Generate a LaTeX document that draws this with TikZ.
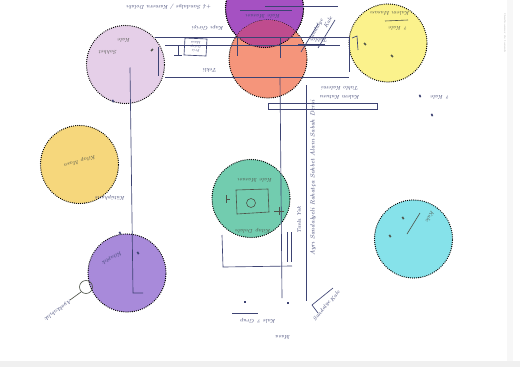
\documentclass[tikz,border=0pt]{standalone}
\usetikzlibrary{calc}
\definecolor{pen}{HTML}{3D4373}
\definecolor{pencil}{HTML}{4E5349}
\definecolor{clav}{HTML}{E5CFE8}
\definecolor{cplum}{HTML}{A551C2}
\definecolor{cmix}{HTML}{BF4C8E}
\definecolor{csalmon}{HTML}{F5957B}
\definecolor{cyel}{HTML}{FBF28C}
\definecolor{cgold}{HTML}{F6D77C}
\definecolor{cteal}{HTML}{72CCAF}
\definecolor{ccyan}{HTML}{86E2EA}
\definecolor{cviolet}{HTML}{A88ADA}
\tikzset{
  rim/.style={draw=black, line width=1.3pt, line cap=round, dash pattern=on 0pt off 2.1pt},
  spot/.style={circle, inner sep=0pt, minimum size=78pt, rim},
  ink/.style={draw=pen, line width=0.65pt},
  hand/.style={text=pen, font=\itshape\fontsize{5.4}{6}\selectfont, inner sep=0.3pt},
  lead/.style={text=pencil, font=\itshape\fontsize{5.4}{6}\selectfont, inner sep=0.3pt},
  dotmark/.style={fill=pen, inner sep=0pt, minimum width=1.6pt, minimum height=2.6pt}
}
\begin{document}
\begin{tikzpicture}[x=1pt,y=-1pt]
\useasboundingbox (0,0) rectangle (520,367);
\fill[white] (0,0) rectangle (520,367);
% scanner edge shading
\fill[black!6] (0,361) rectangle (520,367);
\fill[black!3] (507,0) rectangle (513,361);

% coloured zones
\node[spot, fill=clav] (study) at (125.5,64.5) {};
\node[spot, fill=cplum] (desk) at (264.5,8.5) {};
\node[spot, fill=csalmon] (board) at (268,59) {};
\begin{scope}
  \clip (268,59) circle (39pt);
  \fill[cmix] (264.5,8.5) circle (39pt);
\end{scope}
\draw[rim] (264.5,8.5) circle (39pt);
\node[spot, fill=cyel] (corner) at (388,43) {};
\node[spot, fill=cgold] (library) at (79.5,164.5) {};
\node[spot, fill=cteal] (table) at (251,198.5) {};
\node[spot, fill=ccyan] (window) at (413.5,239) {};
\node[spot, fill=cviolet] (shelf) at (127,273) {};

% wall lines across the top
\draw[ink] (155,37) -- (349,37);
\draw[ink] (165,45) -- (340,45);
\draw[ink] (165,77) -- (349,77);
\draw[ink] (158,47) -- (158,76);
\draw[ink] (349,37) -- (349,72);
\draw[ink] (237,38) -- (237,56);
\draw[ink] (280,38) -- (280,58);
\draw[ink] (265,6) -- (338,6);
\draw[ink] (240,10) -- (292,10);
\draw[ink] (178,45) -- (178,55) (174,55) -- (182,55);
\draw[ink] (185,38) -- (207,39) -- (206,56) -- (184,55) -- cycle;
\draw[ink] (301,52) -- (318,24) (318,48) -- (335,20);
\draw[ink] (298,44) -- (325,44);
\draw[ink] (352,38) -- (357,36) -- (358,50);
\draw[draw=pencil, line width=0.6pt] (385,21) -- (408,20);

% main corridor
\draw[ink] (study.center) ++(4.5,3) -- (133,293) -- (143,293);
\draw[ink] (280,77) -- (282,298);
\draw[ink] (306,85) -- (306,301);
\draw[ink] (268,103) -- (377,103) -- (377,109) -- (268,109) -- cycle;
\draw[ink] (222,235) -- (223,267) -- (292,266);
\draw[ink] (287,232) -- (287,262) (291,232) -- (291,262);

% door at the bookshelf
\draw[ink, draw=pencil] (86,287) circle (6.5pt);
\draw[ink, draw=pencil] (81,292) -- (70,300);

% diagonal corner
\draw[ink] (333,288) -- (312,305) -- (318,313);

% details in the table zone
\draw[draw=pencil, line width=0.6pt] (236,190) -- (268,189) -- (269,212) -- (237,214) -- cycle;
\draw[draw=pencil, line width=0.6pt] (251,203) circle (4.5pt);
\draw[draw=pencil, line width=0.6pt] (226,195) -- (226,203) (226,199) -- (230,199);
\draw[draw=pencil, line width=0.6pt] (274,211) -- (284,211) (279,207) -- (279,215);
\draw[draw=pencil, line width=0.6pt] (420,213) -- (407,234);

% small marks
\node[dotmark, rotate=20] (m1) at (420,96) {};
\node[dotmark, rotate=20] (m2) at (432,115) {};
\node[dotmark] (m3) at (245,302) {};
\node[dotmark] (m4) at (288,303) {};
\node[dotmark, fill=pencil, rotate=30] (m5) at (403,218) {};
\node[dotmark, fill=pencil, rotate=30] (m6) at (390,236) {};
\node[dotmark, fill=pencil, rotate=-40] (m8) at (152,50) {};
\node[dotmark, fill=pencil, rotate=40] (m9) at (365,44) {};
\node[dotmark, fill=pencil, rotate=40] (m10) at (392,56) {};
\node[dotmark, rotate=30] (m11) at (138,253) {};
\node[dotmark, rotate=30] (m12) at (120,233) {};
\node[dotmark, rotate=30] (m13) at (113,101) {};

% handwritten labels
\node[hand, rotate=180] (t1) at (169,7) {+4 Sandalye / Kamera Dolabı};
\node[hand, rotate=180] (t2) at (208,28) {Kapı Girişi};
\node[hand, rotate=180, align=center, font=\itshape\fontsize{3.6}{4}\selectfont] (t3) at (196,47) {Priz\\Dolap\\Masa};
\node[hand, rotate=180] (t4) at (210,70) {Tekli};
\node[hand, rotate=180] (t5) at (263,16) {Kale Masası};
\node[hand, rotate=60] (t6a) at (316,30) {Sandalye};
\node[hand, rotate=60] (t6b) at (328,22) {Kale};
\node[hand, rotate=180] (t7) at (320,40) {Tablo};
\node[hand, rotate=180] (t8) at (340,88) {Tablo Kalemi};
\node[hand, rotate=180] (t9) at (340,97) {Kalem Kutusu};
\node[hand, rotate=180] (t10) at (440,97) {? Kale};
\node[lead, rotate=180] (t11) at (390,13) {Kalem Masası};
\node[lead, rotate=180] (t12) at (398,28) {? Kale};
\node[lead, rotate=180] (t13) at (108,52) {Sohbet};
\node[lead, rotate=180] (t14) at (124,40) {Kale};
\node[lead, rotate=195] (t15) at (80,161) {Kitap Masa};
\node[hand, rotate=180] (t16) at (110,198) {Kütüphane};
\node[lead, rotate=180] (t17) at (255,180) {Kale Masası};
\node[lead, rotate=180] (t18) at (253,231) {Kitap Dolabı};
\node[lead, rotate=240] (t19) at (430,217) {Kale};
\node[hand, rotate=210] (t20) at (112,258) {Kitaplık};
\node[hand, rotate=215] (t21) at (58,310) {Ayakkabılık};
\node[hand, rotate=90] (t22) at (299,220) {Tavla Yok};
\node[hand, rotate=90, font=\itshape\fontsize{6}{7}\selectfont] (t23) at (313,178) {Ayrı Sandalyeli Rahatça Sohbet Alanı Sabah Dersi};
\node[hand, rotate=180] (t24) at (258,321) {Kale ? Grup};
\draw[ink] (232,313) -- (258,313);
\node[hand, rotate=180] (t25) at (283,337) {Masa};
\node[hand, rotate=52] (t26a) at (322,311) {Sandalye};
\node[hand, rotate=52] (t26b) at (335,296) {Kale};
\node[text=black!30, font=\fontsize{2.8}{3}\selectfont, rotate=-90, inner sep=0pt] (wm) at (505,33) {CamScanner ile tarandı};
\end{tikzpicture}
\end{document}
